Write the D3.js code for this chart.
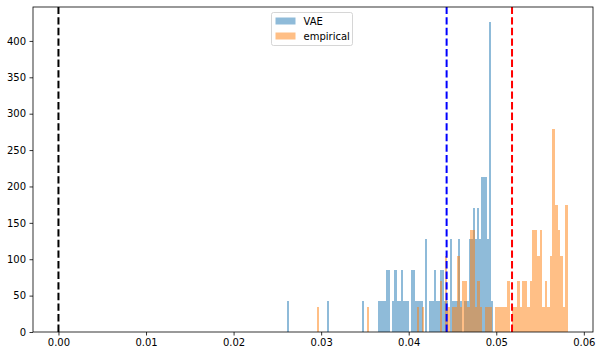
<!DOCTYPE html>
<html><head><meta charset="utf-8">
<script src="https://cdn.jsdelivr.net/npm/d3@7"></script>
<style>
body{margin:0;background:#fff}
svg{display:block}
text{font-family:"DejaVu Sans",sans-serif;font-size:10px;fill:#000}
</style>
</head><body>
<svg id="c" width="601" height="357"></svg>
<script>
// ---- data ----
const seriesNames = ["VAE", "empirical"];
const seriesColors = ["#1f77b4", "#ff7f0e"];
const nSamples = 100;
const vaeRange = [0.02615, 0.04966];
const vaeCounts = [
  1,0,0,0,0,0,0,0,0,0,
  0,0,0,0,0,0,0,0,0,1,
  0,0,0,0,0,0,0,0,0,0,
  0,0,0,0,0,0,1,0,0,0,
  0,0,0,0,1,1,1,1,2,2,
  0,1,2,1,1,2,1,1,1,0,
  2,2,1,1,1,1,0,3,0,1,
  1,2,1,1,2,2,1,1,0,3,
  1,1,1,3,1,0,1,1,3,3,
  4,3,4,3,5,5,5,3,10,1
];
const empRange = [0.02947, 0.05814];
const empCounts = [
  1,0,0,0,0,0,0,0,0,0,
  0,0,0,0,0,0,0,0,0,0,
  1,0,0,0,0,0,0,0,0,0,
  0,0,0,0,0,0,0,0,0,0,
  1,0,1,0,0,0,0,0,0,2,
  0,3,1,0,1,1,3,1,2,2,
  1,4,4,1,2,1,0,1,1,1,
  0,1,1,1,1,1,2,0,1,1,
  2,1,2,2,1,2,4,4,3,4,
  1,2,1,3,8,5,4,3,1,5
];
const vLineX = [0, 0.04433, 0.0518];
const vLineColors = ["black", "blue", "red"];
const xTicks = [0, 0.01, 0.02, 0.03, 0.04, 0.05, 0.06];
const yTicks = [0, 50, 100, 150, 200, 250, 300, 350, 400];

// ---- layout ----
const L = 33, R = 593, T = 7, B = 332;
const svg = d3.select("#c");

function bins(range, counts) {
  const w = (range[1] - range[0]) / counts.length;
  return counts.map((c, i) => ({x0: range[0] + i * w, x1: range[0] + (i + 1) * w, h: c / (nSamples * w)}));
}
const series = [bins(vaeRange, vaeCounts), bins(empRange, empCounts)];

const xmin = 0, xmax = empRange[1];
const pad = (xmax - xmin) * 0.05;
const x = d3.scaleLinear().domain([xmin - pad, xmax + pad]).range([L, R]);
const ymax = d3.max(series.flat(), d => d.h) * 1.05;
const y = d3.scaleLinear().domain([0, ymax]).range([B, T]);

const g = svg.append("g").attr("shape-rendering", "crispEdges");
series.forEach((s, i) => {
  g.append("g").selectAll("rect").data(s.filter(d => d.h > 0)).join("rect")
    .attr("x", d => x(d.x0)).attr("width", d => x(d.x1) - x(d.x0))
    .attr("y", d => y(d.h)).attr("height", d => y(0) - y(d.h))
    .attr("fill", seriesColors[i]).attr("fill-opacity", 0.5);
});

// vertical dashed lines
vLineX.forEach((v, i) => {
  svg.append("line")
    .attr("x1", x(v)).attr("x2", x(v)).attr("y1", B).attr("y2", T)
    .attr("stroke", vLineColors[i]).attr("stroke-width", 2)
    .attr("stroke-dasharray", "7.4,3.2");
});

// axes
const xAxis = d3.axisBottom(x).tickValues(xTicks).tickFormat(d3.format(".2f")).tickSize(3.5).tickPadding(3.5);
const yAxis = d3.axisLeft(y).tickValues(yTicks).tickSize(3.5).tickPadding(3.5);
const gx = svg.append("g").attr("transform", `translate(0,${B})`).call(xAxis);
const gy = svg.append("g").attr("transform", `translate(${L},0)`).call(yAxis);
[gx, gy].forEach(a => {
  a.select(".domain").remove();
  a.selectAll(".tick line").attr("stroke", "#000").attr("stroke-width", 0.8);
  a.selectAll(".tick text").attr("font-family", "DejaVu Sans").attr("font-size", 10).attr("fill", "#000");
});
svg.append("rect").attr("x", L).attr("y", T).attr("width", R - L).attr("height", B - T)
  .attr("fill", "none").attr("stroke", "#000").attr("stroke-width", 0.8);

// legend
const lg = svg.append("g").attr("transform", "translate(271.5,12.5)");
lg.append("rect").attr("width", 81).attr("height", 33).attr("rx", 2)
  .attr("fill", "#fff").attr("fill-opacity", 0.8).attr("stroke", "#ccc").attr("stroke-width", 0.8);
seriesNames.forEach((n, i) => {
  lg.append("rect").attr("x", 4).attr("y", 5 + i * 15).attr("width", 20).attr("height", 7)
    .attr("fill", seriesColors[i]).attr("fill-opacity", 0.5);
  lg.append("text").attr("x", 32).attr("y", 8.5 + i * 15).attr("dy", "0.35em").text(n);
});
</script>
</body></html>
